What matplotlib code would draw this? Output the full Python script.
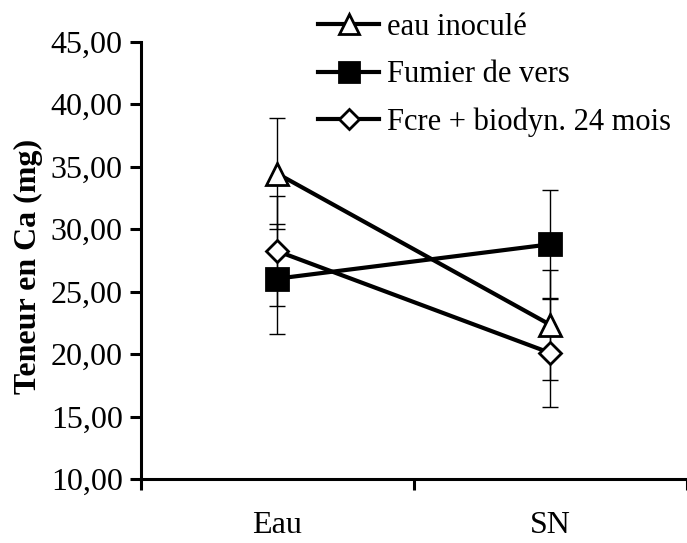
import matplotlib
matplotlib.use('Agg')
import matplotlib.pyplot as plt

# Values
categories = ['Eau', 'SN']
eau_inocule = [34.45, 22.35]
eau_inocule_err = [4.45, 4.4]
fumier_vers = [26.05, 28.8]
fumier_vers_err = [4.4, 4.3]
fcre_biodyn = [28.25, 20.1]
fcre_biodyn_err = [4.4, 4.3]

y_ticks = [10, 15, 20, 25, 30, 35, 40, 45]
y_tick_labels = ['10,00', '15,00', '20,00', '25,00', '30,00', '35,00', '40,00', '45,00']

plt.rcParams['font.family'] = ['Liberation Serif', 'DejaVu Serif']

fig = plt.figure(figsize=(6.87, 5.43), dpi=100)
ax = fig.add_axes([0.2048, 0.1173, 0.7952, 0.8059])

x = [0.5, 1.5]
series = [
    (eau_inocule, eau_inocule_err, '^', 'white', 16, 'eau inoculé'),
    (fumier_vers, fumier_vers_err, 's', 'black', 16, 'Fumier de vers'),
    (fcre_biodyn, fcre_biodyn_err, 'D', 'white', 11, 'Fcre + biodyn. 24 mois'),
]

for vals, errs, marker, face, ms, label in series:
    ax.errorbar(x, vals, yerr=errs, fmt='none', ecolor='black',
                elinewidth=1, capsize=6, capthick=1, zorder=2)
    ax.plot(x, vals, color='black', lw=3, marker=marker, ms=ms,
            mfc=face, mec='black', mew=2, label=label, zorder=3)

ax.set_xlim(0, 1.979)
ax.set_ylim(10, 45)

ax.set_xticks([0, 1, 2])
ax.set_xticklabels([])
ax.set_xticks([0.5, 1.5], minor=True)
ax.set_xticklabels(categories, minor=True, fontsize=23)
ax.tick_params(axis='x', which='minor', length=0, pad=23)
ax.tick_params(axis='x', which='major', direction='out', length=8, width=2.2)

ax.set_yticks(y_ticks)
ax.set_yticklabels(y_tick_labels, fontsize=23)
ax.tick_params(axis='y', direction='out', length=8, width=2.2, pad=5)

for side in ['top', 'right']:
    ax.spines[side].set_visible(False)
for side in ['left', 'bottom']:
    ax.spines[side].set_linewidth(2.2)

fig.text(28 / 687, 1 - 266 / 543, 'Teneur en Ca (mg)', rotation=90,
         ha='center', va='center', fontsize=23, fontweight='bold')

ax.legend(loc='upper left', bbox_to_anchor=(318 / 687, 1 - 13 / 543),
          bbox_transform=fig.transFigure, frameon=False, fontsize=22,
          borderpad=0, borderaxespad=0, handlelength=2.0,
          handletextpad=0.25, labelspacing=0.6, markerscale=0.9)

fig.savefig('out.png', dpi=100)
